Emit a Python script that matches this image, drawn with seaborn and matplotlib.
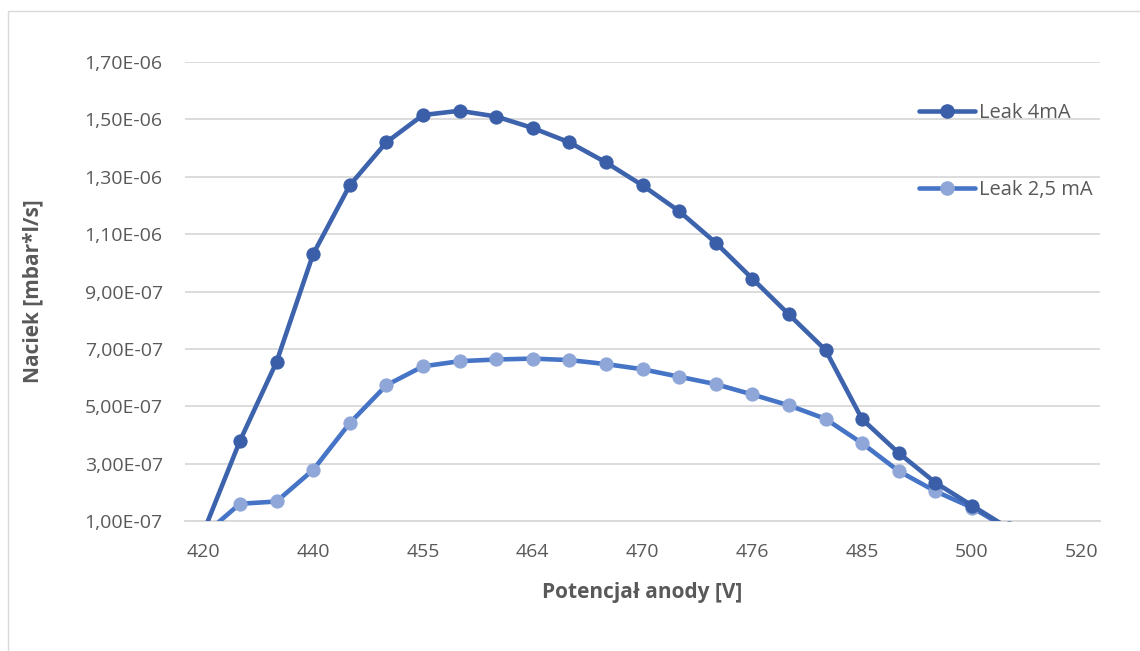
import matplotlib
matplotlib.use("Agg")
import matplotlib.pyplot as plt
from matplotlib.lines import Line2D
from matplotlib.patches import Rectangle
from matplotlib.ticker import FuncFormatter, FixedLocator
import seaborn as sns
import pandas as pd

# ---------------- data ----------------
categories = [420, 430, 435, 440, 445, 450, 455, 458, 461, 464, 466, 468, 470,
              472, 474, 476, 479, 482, 485, 490, 495, 500, 505, 510, 520]
shown_labels = ["420", "440", "455", "464", "470", "476", "485", "500", "520"]

leak_4mA = [0.60e-7, 3.79e-7, 6.54e-7, 1.03e-6, 1.27e-6, 1.42e-6, 1.515e-6, 1.53e-6,
            1.51e-6, 1.47e-6, 1.42e-6, 1.35e-6, 1.27e-6, 1.18e-6, 1.07e-6, 9.45e-7,
            8.20e-7, 6.96e-7, 4.55e-7, 3.37e-7, 2.34e-7, 1.54e-7, 0.75e-7, 0.50e-7, 0.40e-7]
leak_25mA = [0.50e-7, 1.60e-7, 1.68e-7, 2.78e-7, 4.41e-7, 5.73e-7, 6.39e-7, 6.57e-7,
             6.63e-7, 6.66e-7, 6.61e-7, 6.47e-7, 6.29e-7, 6.03e-7, 5.77e-7, 5.41e-7,
             5.03e-7, 4.56e-7, 3.71e-7, 2.74e-7, 2.04e-7, 1.47e-7, 0.72e-7, 0.45e-7, 0.35e-7]
series_names = ["Leak 4mA", "Leak 2,5 mA"]

# ---------------- style ----------------
sns.set_theme(style="white")
plt.rcParams["font.family"] = ["Open Sans", "DejaVu Sans"]
TXT = "#595959"
GRID = "#d9d9d9"
dark_line, dark_mark = "#3d63ad", "#3a5fa8"
light_line, light_mark = "#4674c6", "#8fa7d8"

fig = plt.figure(figsize=(11.4, 6.51), dpi=100)
fig.patch.set_facecolor("white")
ax = fig.add_axes([185 / 1140, 130 / 651, 915 / 1140, 459 / 651])

df = pd.DataFrame({"idx": list(range(len(categories))),
                   "a": leak_4mA, "b": leak_25mA})

sns.lineplot(data=df, x="idx", y="b", ax=ax, color=light_line, lw=3.3,
             marker="o", markersize=9.5, markerfacecolor=light_mark,
             markeredgecolor=light_mark, zorder=3)
sns.lineplot(data=df, x="idx", y="a", ax=ax, color=dark_line, lw=3.3,
             marker="o", markersize=9.5, markerfacecolor=dark_mark,
             markeredgecolor=dark_mark, zorder=4)

ax.set_xlim(-0.5, len(categories) - 0.5)
ax.set_ylim(1e-7, 1.7e-6)
ax.set_yticks([1e-7 + i * 2e-7 for i in range(9)])
ax.yaxis.set_major_formatter(FuncFormatter(lambda v, p: f"{v:.2E}".replace(".", ",")))
ax.grid(axis="y", color=GRID, lw=1.3)
ax.set_axisbelow(True)

label_pos = [i for i in range(len(categories)) if i % 3 == 0]
ax.set_xticks(label_pos)
ax.set_xticklabels(shown_labels)
ax.xaxis.set_minor_locator(FixedLocator([-0.5]))
ax.tick_params(axis="x", which="major", length=0, pad=16, labelsize=14, labelcolor=TXT)
ax.tick_params(axis="x", which="minor", length=6, width=1, color=GRID, direction="out")
ax.tick_params(axis="y", length=0, pad=16, labelsize=14, labelcolor=TXT)

for s in ["top", "right", "left"]:
    ax.spines[s].set_visible(False)
ax.spines["bottom"].set_color(GRID)
ax.spines["bottom"].set_linewidth(1.3)

ax.set_xlabel("Potencjał anody [V]", fontsize=15, fontweight="bold", color=TXT, labelpad=15)
ax.set_ylabel("Naciek [mbar*l/s]", fontsize=15, fontweight="bold", color=TXT, labelpad=30)

handles = [Line2D([], [], color=dark_line, lw=3.3, marker="o", markersize=9.5,
                  markerfacecolor=dark_mark, markeredgecolor=dark_mark),
           Line2D([], [], color=light_line, lw=3.3, marker="o", markersize=9.5,
                  markerfacecolor=light_mark, markeredgecolor=light_mark)]
fig.legend(handles, series_names, loc="upper left",
           bbox_to_anchor=(919 / 1140, 1 - 103 / 651), frameon=False,
           handlelength=2.8, handletextpad=0.2, labelspacing=2.85,
           fontsize=14.5, labelcolor=TXT, borderpad=0, borderaxespad=0)

# chart border
fig.add_artist(Rectangle((8 / 1140, -0.1), 1.2, 1.1 - 11 / 651,
                         transform=fig.transFigure, fill=False,
                         edgecolor=GRID, lw=1.0))

fig.savefig("out.png", dpi=100, facecolor="white")
